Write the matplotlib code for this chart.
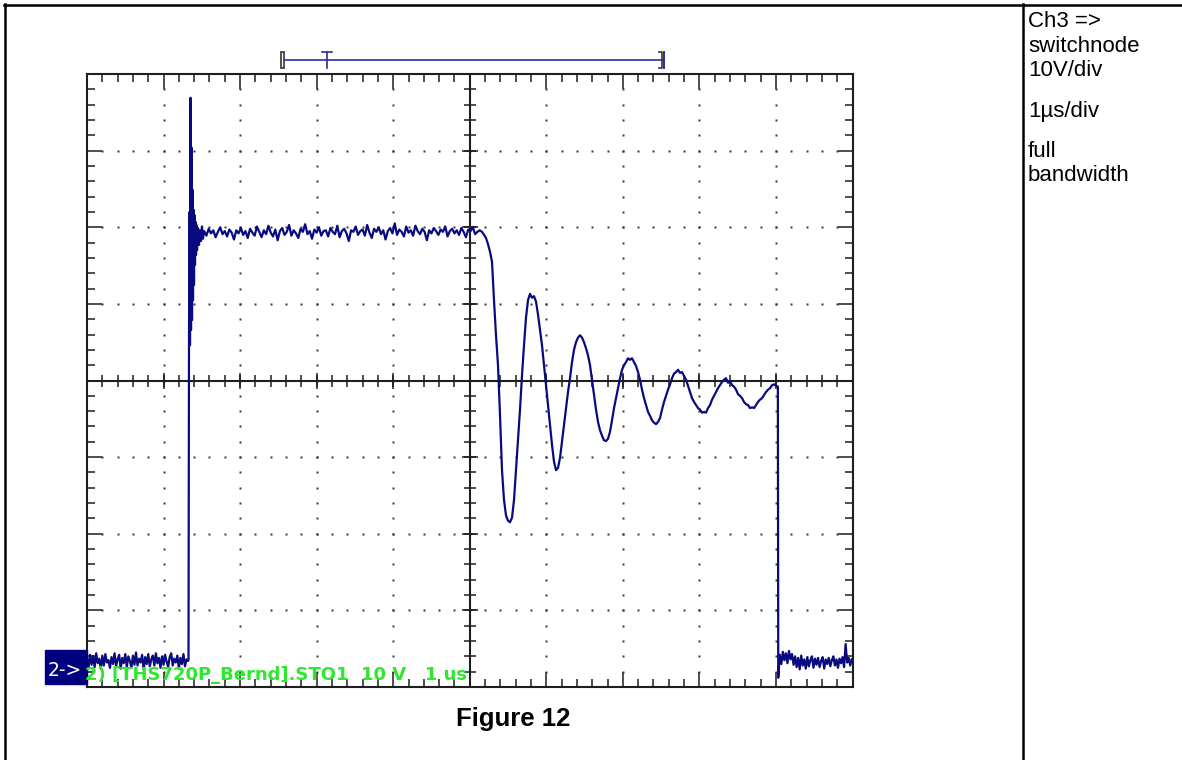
import numpy as np
import matplotlib.pyplot as plt
from matplotlib.lines import Line2D
from matplotlib.patches import Rectangle

# scope setup: Ch2 on the switch node
VOLTS_PER_DIV = 10
US_PER_DIV = 1
N_XDIV, N_YDIV = 10, 8
GND_DIV = 0.26          # ground marker height above the bottom edge, in divisions

# trace data, volts (read in segments)
low_left_t0, low_left_dt = 0.0, 0.02
low_left = [1.2, -0.1, 1.6, 0.3, 1.4, 0.0, 1.8, 0.5, 1.1, -0.2,
            1.5, 0.2, 1.7, 0.6, 0.9, -0.1, 1.3, 0.4, 1.8, 0.1,
            1.0, 1.6, -0.2, 1.2, 0.5, 1.7, 0.0, 1.4, 0.8, -0.1,
            1.5, 0.3, 1.9, 0.2, 1.1, 0.6, 1.6, -0.3, 1.3, 0.4,
            1.7, 0.1, 1.0, 1.5, 0.2, 1.8, 0.5, 1.2, -0.1, 1.4,
            0.3, 1.6, 0.7, 0.0, 1.3, 1.8, 0.2, 1.1, 0.6, 1.5,
            -0.2, 1.2, 0.4, 1.7, 0.1, 1.0, 0.8]

# turn-on edge with the overshoot spike
edge_t = [1.326, 1.3325, 1.339, 1.3455, 1.352, 1.3586, 1.365, 1.3717,
          1.378, 1.3847, 1.391, 1.3978, 1.404, 1.4108, 1.417, 1.4239,
          1.430, 1.437, 1.450, 1.463, 1.476, 1.489, 1.502, 1.515]
edge_v = [0.9, 42.7, 59.4, 42.0, 74.3, 44.0, 67.8, 45.3,
          62.3, 47.9, 59.7, 49.9, 59.0, 52.5, 58.1, 53.8,
          57.7, 54.4, 57.3, 55.1, 57.0, 55.6, 57.5, 55.9]

flat_t0, flat_dt = 1.53, 0.03
flat = [56.9, 56.3, 57.2, 56.6, 57.0, 56.1, 56.8, 57.4, 56.5, 56.9,
        56.2, 57.1, 56.7, 55.8, 57.0, 56.6, 57.3, 56.4, 56.9, 56.0,
        57.2, 56.7, 56.3, 57.5, 56.8, 56.1, 57.0, 56.5, 57.6, 56.7,
        56.2, 57.1, 55.7, 56.9, 57.3, 56.4, 56.8, 57.7, 56.3, 57.0,
        56.6, 56.0, 57.2, 56.8, 57.8, 56.5, 56.9, 55.9, 57.1, 56.7,
        57.4, 56.3, 56.9, 57.0, 56.2, 57.3, 56.8, 56.5, 57.6, 56.1,
        56.9, 57.2, 56.6, 55.6, 57.0, 56.8, 57.5, 56.4, 56.9, 57.1,
        56.3, 57.7, 56.7, 56.0, 57.2, 56.8, 57.4, 56.5, 57.0, 55.8,
        56.9, 57.3, 56.6, 57.9, 56.4, 57.1, 56.8, 56.2, 57.5, 56.7,
        57.0, 56.3, 57.6, 56.9, 56.5, 57.2, 56.8, 55.7, 57.0, 56.6,
        57.3, 56.9, 56.4, 57.1, 56.8, 57.5, 56.2, 56.9, 57.2, 56.6,
        57.0, 56.4, 57.3, 56.8, 56.1, 57.1, 56.9, 57.4, 56.5, 56.8,
        57.0]

# turn-off edge and ringing
ring_t0, ring_dt = 5.160, 0.02613
ring = [56.8, 56.4, 56.0, 55.2, 54.2, 52.9, 47.9, 43.3, 39.4, 32.9,
        25.7, 21.8, 19.8, 19.1, 18.9, 19.5, 21.8, 25.7, 29.6, 33.6,
        38.1, 42.0, 45.6, 47.9, 48.7, 48.2, 48.4, 47.7, 46.0, 44.0,
        42.0, 39.4, 36.8, 34.2, 31.6, 29.0, 26.8, 25.7, 26.0, 27.3,
        29.4, 31.6, 33.8, 35.9, 37.7, 39.8, 41.4, 42.4, 43.0, 43.3,
        43.0, 42.4, 41.6, 40.7, 39.4, 37.5, 35.5, 33.6, 32.0, 30.9,
        30.2, 29.6, 29.5, 29.8, 30.7, 32.2, 33.8, 35.1, 36.4, 37.7,
        38.8, 39.4, 39.8, 40.3, 40.1, 40.3, 39.8, 39.3, 38.5, 37.5,
        36.2, 35.1, 34.2, 33.3, 32.8, 32.2, 31.9, 31.7, 32.0, 32.5,
        33.6, 34.6, 35.4, 36.2, 36.9, 37.7, 38.3, 38.5, 38.8, 38.4,
        38.5, 38.0, 37.5, 36.7, 35.9, 35.1, 34.6, 34.2, 33.8, 33.6,
        33.2, 33.3, 33.2, 33.8, 34.2, 34.9, 35.4, 35.9, 36.4, 36.8,
        37.2, 37.5, 37.7, 37.1, 37.3, 36.8, 36.6, 36.2, 35.6, 35.4,
        35.1, 34.6, 34.3, 34.2, 33.8, 33.9, 33.8, 34.2, 34.6, 34.9,
        35.1, 35.5, 35.9, 36.2, 36.4, 36.8, 36.9, 36.7]

drop_t = [9.025, 9.03]
drop_v = [36.6, -1.4]

low_right_t0, low_right_dt = 9.05, 0.02
low_right = [1.6, 0.4, 2.0, 0.9, 1.8, 0.5, 2.1, 1.0, 1.7, 0.3,
             1.4, 0.0, 1.2, -0.3, 1.5, 0.2, 1.0, -0.2, 1.3, 0.1,
             0.9, 1.4, -0.1, 1.1, 0.3, 1.2, 0.0, 0.8, 1.3, -0.2,
             1.0, 0.4, 1.2, 0.1, 0.9, 1.4, 0.2, 1.0, -0.1, 1.1,
             0.5, 1.3, 0.0, 3.0, 0.6, 1.2, 0.2, 1.0]

# record window bar and trigger position (us)
record_start, record_end = 2.53, 7.52
trigger_t = 3.135

side_notes = [("Ch3 =>", 27), ("switchnode", 52), ("10V/div", 76),
              ("1\u00b5s/div", 117), ("full", 157), ("bandwidth", 181)]


def seg(t0, dt, vals):
    return t0 + dt * np.arange(len(vals)), np.asarray(vals, float)


parts = [seg(low_left_t0, low_left_dt, low_left),
         (np.array(edge_t), np.array(edge_v)),
         seg(flat_t0, flat_dt, flat),
         seg(ring_t0, ring_dt, ring),
         (np.array(drop_t), np.array(drop_v)),
         seg(low_right_t0, low_right_dt, low_right)]
t = np.concatenate([p[0] for p in parts])
v = np.concatenate([p[1] for p in parts])

W, H = 1182, 760
fig = plt.figure(figsize=(W / 100, H / 100), dpi=100)


def fx(px):
    return px / W


def fy(py):
    return 1 - py / H


# table borders around the scope shot
for xs, ys in [([4, W], [5, 5]), ([5, 5], [4, H]), ([1023, 1023], [4, H])]:
    fig.add_artist(Line2D([fx(x) for x in xs], [fy(y) for y in ys],
                          color='black', lw=1.8))

ax = fig.add_axes([fx(87), fy(687), (852.5 - 87) / W, (687 - 74) / H])
ybot = -GND_DIV * VOLTS_PER_DIV
ytop = ybot + N_YDIV * VOLTS_PER_DIV
ax.set_xlim(0, N_XDIV * US_PER_DIV)
ax.set_ylim(ybot, ytop)

frame = '#1e1e1e'
for s in ax.spines.values():
    s.set_linewidth(1.5)
    s.set_color(frame)

xmaj = np.arange(0, N_XDIV + 1) * US_PER_DIV
xmin = np.arange(0, N_XDIV * 5 + 1) * US_PER_DIV / 5
ymaj = ybot + np.arange(0, N_YDIV + 1) * VOLTS_PER_DIV
ymin = ybot + np.arange(0, N_YDIV * 5 + 1) * VOLTS_PER_DIV / 5
ax.set_xticks(xmaj)
ax.set_xticks(xmin, minor=True)
ax.set_yticks(ymaj)
ax.set_yticks(ymin, minor=True)
ax.tick_params(which='both', direction='in', top=True, right=True,
               labelbottom=False, labelleft=False, color=frame, width=1.1)
ax.tick_params(which='major', length=11)
ax.tick_params(which='minor', length=5.5)

# dotted graticule
xc = N_XDIV / 2 * US_PER_DIV
yc = ybot + N_YDIV / 2 * VOLTS_PER_DIV
dot = dict(ls='none', marker='s', ms=1.5, mec='none', color='#3a3a3a')
for i in range(1, N_XDIV):
    if i != N_XDIV // 2:
        ax.plot(np.full(len(ymin) - 2, i * US_PER_DIV), ymin[1:-1], **dot)
for j in range(1, N_YDIV):
    if j != N_YDIV // 2:
        ax.plot(xmin[1:-1], np.full(len(xmin) - 2, ybot + j * VOLTS_PER_DIV), **dot)

# centre cross with its own ticks
ax.axvline(xc, color=frame, lw=1.5)
ax.axhline(yc, color=frame, lw=1.5)
ax.plot(xmin[1:-1], np.full(len(xmin) - 2, yc), ls='none', marker='|',
        ms=8, mew=1.1, color=frame)
ax.plot(xmaj[1:-1], np.full(len(xmaj) - 2, yc), ls='none', marker='|',
        ms=12, mew=1.1, color=frame)
ax.plot(np.full(len(ymin) - 2, xc), ymin[1:-1], ls='none', marker='_',
        ms=8, mew=1.1, color=frame)
ax.plot(np.full(len(ymaj) - 2, xc), ymaj[1:-1], ls='none', marker='_',
        ms=12, mew=1.1, color=frame)

# the waveform
ax.plot(t, v, color='#0a0a80', lw=1.6, zorder=5)

# record window bar with trigger mark above the graticule
bar_y = ytop + 1.8
bar_h = 1.05
ax.plot([record_start + 0.06, record_end + 0.01], [bar_y, bar_y],
        color='#2b2ba8', lw=1.2, clip_on=False)
ax.add_patch(Rectangle((record_start, bar_y - bar_h), 0.05, 2 * bar_h,
                       fill=False, ec='#333333', lw=1.2, clip_on=False))
ax.plot([trigger_t, trigger_t], [bar_y - bar_h, bar_y + bar_h],
        color='#2b2ba8', lw=1.2, clip_on=False)
ax.plot([trigger_t - 0.06, trigger_t + 0.06], [bar_y + bar_h, bar_y + bar_h],
        color='#2b2ba8', lw=1.2, clip_on=False)
ax.plot([record_end - 0.05, record_end - 0.01, record_end - 0.01, record_end - 0.05],
        [bar_y + bar_h, bar_y + bar_h, bar_y - bar_h, bar_y - bar_h],
        color='#333333', lw=1.2, clip_on=False)
ax.plot([record_end + 0.02, record_end + 0.02], [bar_y - bar_h, bar_y + bar_h],
        color='#2b2ba8', lw=1.4, clip_on=False)

# channel marker and scope caption
fig.add_artist(Rectangle((fx(45), fy(684)), (87 - 45) / W, (684 - 650) / H,
                         transform=fig.transFigure, color='#00007f'))
fig.text(fx(48), fy(676), "2->", color='white', fontsize=13.5,
         family='DejaVu Sans', va='baseline')
fig.text(fx(85), fy(680), "2) [THS720P_Bernd].STO1  10 V   1 us",
         color='#2ee82e', fontsize=13, fontweight='bold',
         family='DejaVu Sans', va='baseline', zorder=6)

fig.text(fx(513), fy(726), "Figure 12", ha='center', va='baseline',
         fontsize=18.5, fontweight='bold', family='Liberation Sans')

for txt, base in side_notes:
    fig.text(fx(1028), fy(base), txt, va='baseline', fontsize=16,
             family='Liberation Sans')

fig.savefig('out.png', dpi=100)
